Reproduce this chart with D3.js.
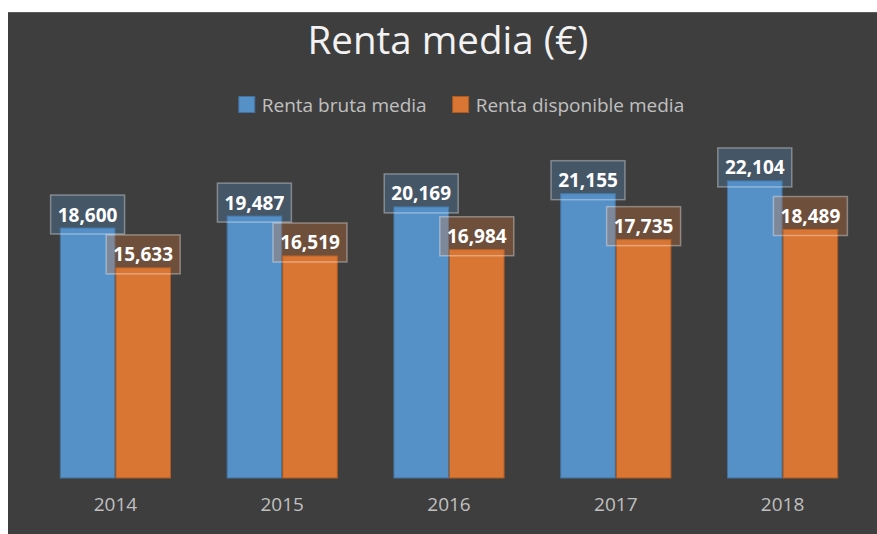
<!DOCTYPE html>
<html>
<head>
<meta charset="utf-8">
<script src="https://cdn.jsdelivr.net/npm/d3@7"></script>
<style>
  body { margin: 0; background: #fff; }
  svg { display: block; font-family: "Open Sans", sans-serif; }
</style>
</head>
<body>
<svg id="chart" width="877" height="534"></svg>
<script>
var width = 877;
var height = 534;

// data
var years = ["2014", "2015", "2016", "2017", "2018"];
var seriesNames = ["Renta bruta media", "Renta disponible media"];
var rentaBruta = [18600, 19487, 20169, 21155, 22104];
var rentaDisponible = [15633, 16519, 16984, 17735, 18489];

var colors = ["#5590c7", "#d97634"];
var strokes = ["#41719c", "#ae5a21"];

var svg = d3.select("#chart");

// dark chart area
svg.append("rect").attr("x", 8).attr("y", 12).attr("width", width - 8).attr("height", height - 12)
  .attr("fill", "#3e3e3e");
svg.append("line").attr("x1", 8).attr("x2", width).attr("y1", 12.5).attr("y2", 12.5)
  .attr("stroke", "#5a5a5a").attr("stroke-width", 1);

// title
svg.append("text").attr("x", 448).attr("y", 53.5).attr("text-anchor", "middle")
  .attr("fill", "#f2f2f2").style("font-size", "38.5px").text("Renta media (€)");

// scales
var x0 = d3.scaleBand().domain(years).range([32, 866]).paddingInner(1/3).paddingOuter(1/6);
var x1 = d3.scaleBand().domain([0, 1]).range([0, x0.bandwidth()]);
var y = d3.scaleLinear().domain([0, 25000]).range([478, 142]);

var rows = years.map(function(yr, i) {
  return { year: yr, vals: [rentaBruta[i], rentaDisponible[i]] };
});

var groups = svg.selectAll("g.grp").data(rows).enter().append("g")
  .attr("class", "grp")
  .attr("transform", function(d) { return "translate(" + x0(d.year) + ",0)"; });

groups.selectAll("rect.bar").data(function(d) { return d.vals; }).enter().append("rect")
  .attr("class", "bar")
  .attr("x", function(d, i) { return x1(i) + 0.5; })
  .attr("width", x1.bandwidth() - 1)
  .attr("y", function(d) { return y(d); })
  .attr("height", function(d) { return y(0) - y(d); })
  .attr("fill", function(d, i) { return colors[i]; })
  .attr("stroke", function(d, i) { return strokes[i]; })
  .attr("stroke-width", 1);

// data labels
var fmt = d3.format(",");
var boxW = 74, boxH = 39;
var labels = groups.selectAll("g.lbl").data(function(d) { return d.vals; }).enter().append("g")
  .attr("class", "lbl")
  .attr("transform", function(d, i) {
    return "translate(" + (x1(i) + x1.bandwidth() / 2) + "," + (y(d) - 13.5) + ")";
  });
labels.append("rect")
  .attr("x", -boxW / 2).attr("y", -boxH / 2).attr("width", boxW).attr("height", boxH)
  .attr("fill", function(d, i) { return colors[i]; }).attr("fill-opacity", 0.3)
  .attr("stroke", "#ffffff").attr("stroke-opacity", 0.35).attr("stroke-width", 1.5);
labels.append("text")
  .attr("text-anchor", "middle").attr("y", 7)
  .attr("fill", "#ffffff").style("font-size", "19px").style("font-weight", "bold")
  .text(function(d) { return fmt(d); });

// x axis
var xAxis = svg.append("g").attr("transform", "translate(0," + y(0) + ")")
  .call(d3.axisBottom(x0).tickSize(0).tickPadding(20));
xAxis.select(".domain").remove();
xAxis.selectAll("text").attr("fill", "#c0c0c0").style("font-size", "19px")
  .style("font-family", "'Open Sans', sans-serif");

// legend
var legend = svg.append("g");
var items = legend.selectAll("g").data(seriesNames).enter().append("g");
items.append("rect").attr("width", 16).attr("height", 16).attr("y", 96.5)
  .attr("fill", function(d, i) { return colors[i]; })
  .attr("stroke", function(d, i) { return strokes[i]; });
items.append("text").attr("x", 23).attr("y", 112)
  .attr("fill", "#c0c0c0").style("font-size", "19px").text(function(d) { return d; });
var xpos = 0;
items.each(function() {
  var w = this.getBBox().width;
  d3.select(this).attr("transform", "translate(" + xpos + ",0)");
  xpos += w + 26;
});
var total = xpos - 26;
legend.attr("transform", "translate(" + (461.5 - total / 2) + ",0)");
</script>
</body>
</html>
